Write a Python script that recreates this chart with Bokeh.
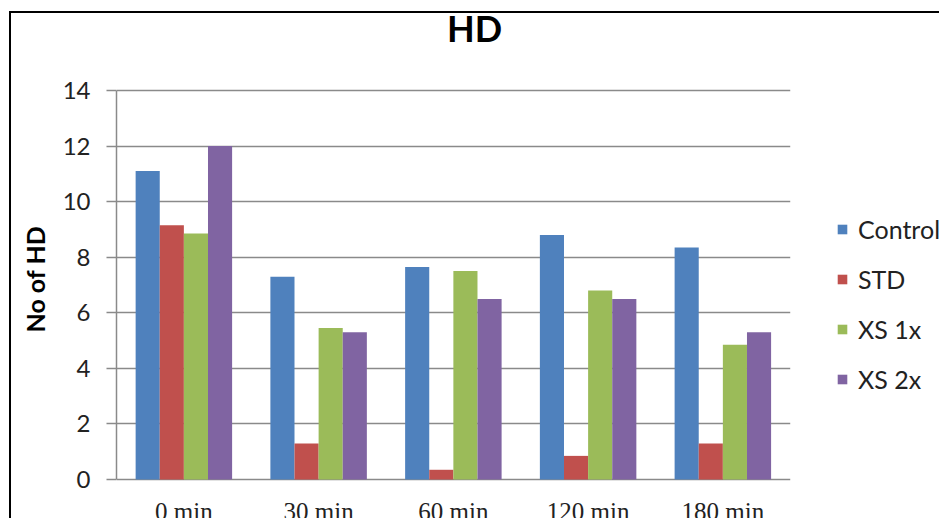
import numpy as np
from bokeh.plotting import figure
from bokeh.models import (Range1d, FixedTicker, Legend, LegendItem, ColumnDataSource,
                          BoxAnnotation, Label, LabelSet, Title)
from bokeh.embed import file_html
from bokeh.resources import INLINE

# --- data -------------------------------------------------------------
times = ["0 min", "30 min", "60 min", "120 min", "180 min"]
control = [11.1, 7.3, 7.65, 8.8, 8.35]
std = [9.15, 1.3, 0.35, 0.85, 1.3]
xs_1x = [8.85, 5.45, 7.5, 6.8, 4.85]
xs_2x = [12.0, 5.3, 6.5, 6.5, 5.3]

series_names = ["Control", "STD", "XS 1x", "XS 2x"]
series_values = [control, std, xs_1x, xs_2x]
colors = ["#4F81BD", "#C0504D", "#9BBB59", "#8064A2"]
y_ticks = [0, 2, 4, 6, 8, 10, 12, 14]
y_max = 14

FONT = "Lato"
GRID = "#8a8a8a"
TXT = "#222222"

# canvas geometry: the bars use a 677 x 389 px area whose baseline is 41 px above
# the canvas bottom; the frame fills the rest of the canvas (title above,
# legend to the right, category names below)
W, H = 930, 507
LEFT = 101
BASE_GAP = 41
BAR_AREA_W, BAR_AREA_H = 677, 389
n = len(times)
px_per_unit = BAR_AREA_H / y_max
x_end = -0.5 + n * (W - LEFT) / BAR_AREA_W
y_start = -BASE_GAP / px_per_unit
y_end = (H - BASE_GAP) / px_per_unit

pos = np.arange(n)
bar_w = 0.179

p = figure(width=W, height=H, x_range=Range1d(-0.5, x_end), y_range=Range1d(y_start, y_end),
           output_backend="svg", toolbar_location=None,
           min_border_left=LEFT, min_border_right=0, min_border_top=0,
           min_border_bottom=0)
p.outline_line_color = None
p.background_fill_color = "white"
p.border_fill_color = "white"
# black frame line along the top and left of the chart area
p.styles = {"margin-left": "9px", "margin-top": "11px",
            "border-left": "2px solid black", "border-top": "2px solid black"}

# bars, side by side within each time point
renderers = []
for i, (name, vals, col) in enumerate(zip(series_names, series_values, colors)):
    src = ColumnDataSource(dict(x=pos + (i - 1.5) * bar_w, top=vals))
    r = p.vbar(x="x", top="top", width=bar_w, source=src, fill_color=col, line_color=None)
    renderers.append(r)

# y axis (limited to the value range)
p.yaxis.ticker = FixedTicker(ticks=y_ticks)
p.yaxis.bounds = (0, y_max)
p.yaxis.major_label_text_font = FONT
p.yaxis.major_label_text_font_size = "24px"
p.yaxis.major_label_text_color = TXT
p.yaxis.major_label_standoff = 16
p.yaxis.axis_line_color = GRID
p.yaxis.axis_line_width = 1.5
p.yaxis.major_tick_line_color = GRID
p.yaxis.major_tick_line_width = 1.5
p.yaxis.major_tick_out = 10
p.yaxis.major_tick_in = 0
p.yaxis.minor_tick_line_color = None

# the value-0 gridline is the baseline; category names are set under each group
p.xaxis.visible = False
p.xgrid.grid_line_color = None
p.ygrid.ticker = FixedTicker(ticks=y_ticks)
p.ygrid.grid_line_color = GRID
p.ygrid.grid_line_width = 1.5

cat_src = ColumnDataSource(dict(x=pos, y=np.zeros(n), text=times))
p.add_layout(LabelSet(x="x", y="y", text="text", source=cat_src, y_offset=-18,
                      text_align="center", text_baseline="top", text_font=FONT,
                      text_font_size="25px", text_color=TXT))

# y-axis title, set beside the tick labels
p.add_layout(Title(text="No of HD", align="left", offset=188, vertical_align="top",
                   standoff=16, text_font=FONT, text_font_style="bold",
                   text_font_size="25px", text_color="black"), "left")

# plain white strip to the right of the bar area (gridlines stop at the bars)
p.add_layout(BoxAnnotation(left=n - 0.5, fill_color="white", fill_alpha=1.0,
                           line_color=None))

# chart title
p.add_layout(Label(x=358, y=493, x_units="screen", y_units="screen", text="HD",
                   text_align="center", text_baseline="middle", text_font=FONT,
                   text_font_style="bold", text_font_size="36px", text_color="black"))

# legend in the right strip
legend = Legend(items=[LegendItem(label=nm, renderers=[r]) for nm, r in zip(series_names, renderers)],
                location=(720, 126), orientation="vertical",
                label_text_font=FONT, label_text_font_size="25px", label_text_color=TXT,
                glyph_width=12, glyph_height=12, label_height=30, spacing=20,
                padding=0, margin=0, border_line_color=None, background_fill_alpha=0,
                label_standoff=10)
p.add_layout(legend, "center")

open("out.html", "w").write(file_html(p, INLINE))
